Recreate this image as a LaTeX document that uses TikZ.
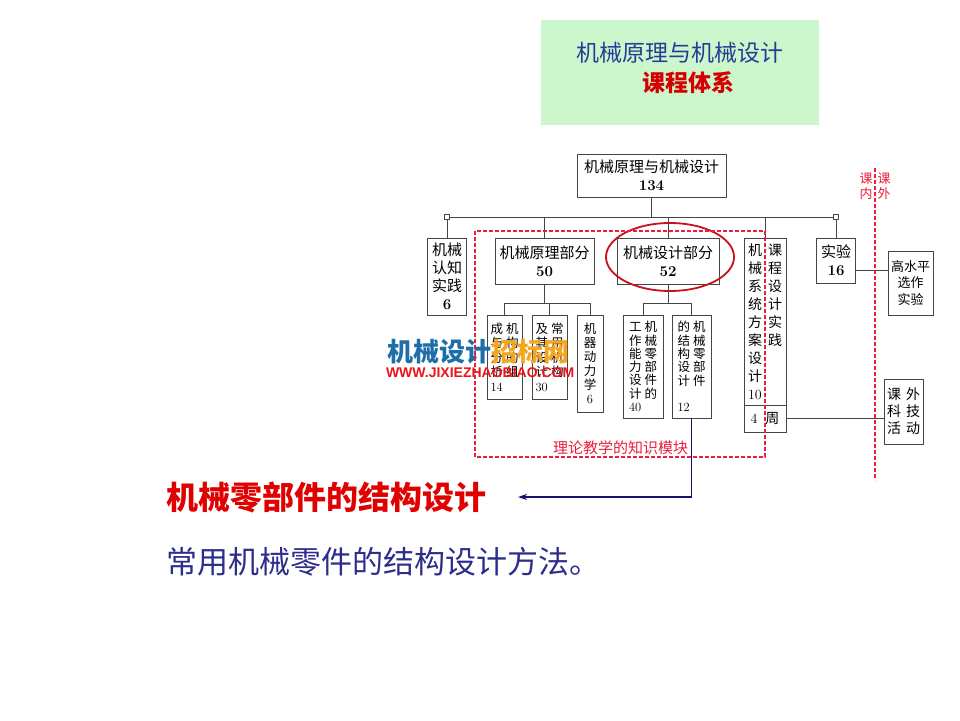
\documentclass[tikz,border=0pt]{standalone}
\usepackage{fontspec}
\newfontfamily\cjk{Noto Sans CJK SC}
\newfontfamily\wmfont{Liberation Sans}
\usetikzlibrary{positioning,arrows.meta}

\definecolor{boxgray}{RGB}{70,70,70}
\definecolor{dashred}{RGB}{235,30,60}
\definecolor{focusred}{RGB}{200,16,30}
\definecolor{navy}{RGB}{20,20,110}
\definecolor{hotred}{RGB}{225,0,0}
\definecolor{inkblue}{RGB}{45,45,140}
\definecolor{titleblue}{RGB}{40,60,150}
\definecolor{titlered}{RGB}{215,0,0}
\definecolor{titlegreen}{RGB}{204,246,204}
\definecolor{markblue}{RGB}{30,110,170}
\definecolor{markorange}{RGB}{245,165,30}
\definecolor{markred}{RGB}{232,20,26}

\newcommand\boxnum[1]{{\normalfont\bfseries #1}}
\newcommand\subnum[1]{{\normalfont #1}}
\newcommand\duo[2]{#1\hspace{3pt}#2}

\begin{document}
\begin{tikzpicture}
[x=1pt,y=-1pt,
 every node/.style={inner sep=0pt,outer sep=0pt},
 unit/.style={draw=boxgray,line width=0.8pt,fill=white,align=center,font=\cjk\fontsize{15}{18}\selectfont},
 sub/.style={unit,align=left,font=\cjk\fontsize{12.5}{14.5}\selectfont},
 link/.style={draw=boxgray,line width=0.8pt},
 bound/.style={draw=dashred,dash pattern=on 4pt off 2pt,line width=1.1pt},
 joint/.style={draw=boxgray,fill=white,line width=0.6pt,minimum size=5pt},
 focus/.style={draw=focusred,line width=1.8pt},
 pointer/.style={draw=navy,line width=1.5pt,-{Stealth[length=9pt,width=6pt]}}]
\fill[white] (0,0) rectangle (960,720);
\useasboundingbox (0,0) rectangle (960,720);
% title
\node[fill=titlegreen,minimum width=278pt,minimum height=105pt] (title) at (680,72.5) {};
\node[font=\cjk\fontsize{23}{23}\selectfont,text=titleblue] (titleA) at (680,53) {机械原理与机械设计};
\node[font=\cjk\bfseries\fontsize{23}{23}\selectfont,text=titlered] (titleB) at (688,83) {课程体系};
% course tree
\node[unit,minimum width=149pt,minimum height=43pt] (course) at (651.5,175.5) {机械原理与机械设计\\\boxnum{134}};
\coordinate (busL) at (447,217);
\coordinate (busR) at (836,217);
\node[unit,minimum width=39pt,minimum height=77pt]  (renzhi) at (447,276.5) {机械\\认知\\实践\\\boxnum{6}};
\node[unit,minimum width=99pt,minimum height=46pt]  (yuanli) at (544.5,261) {机械原理部分\\\boxnum{50}};
\node[unit,minimum width=102pt,minimum height=46pt] (sheji)  at (668,261)   {机械设计部分\\\boxnum{52}};
\node[unit,align=left,font=\cjk\fontsize{14}{18}\selectfont,minimum width=42pt,minimum height=167pt] (xitong) at (765,321.5)
  {机\hspace{6pt}课\\械\hspace{6pt}程\\系\hspace{6pt}设\\统\hspace{6pt}计\\方\hspace{6pt}实\\案\hspace{6pt}践\\设\\计\\\subnum{10}};
\node[unit,font=\cjk\fontsize{14}{18}\selectfont,minimum width=42pt,minimum height=27pt] (zhou) [below=0pt of xitong] {\normalfont 4\hspace{8pt}\cjk 周};
\node[unit,minimum width=39pt,minimum height=45pt]  (shiyan) at (836,260.5) {实验\\\boxnum{16}};
\node[unit,font=\cjk\fontsize{13}{16.5}\selectfont,minimum width=45pt,minimum height=64pt] (gao) at (910.5,283) {高水平\\选作\\实验};
\node[unit,font=\cjk\fontsize{14}{17}\selectfont,minimum width=39pt,minimum height=65pt] (kewai) at (903.5,411.5)
  {课\hspace{5pt}外\\科\hspace{5pt}技\\活\hspace{5pt}动};
\node[sub,minimum width=35pt,minimum height=84pt] (jigou) [on grid,below left=96pt and 40pt of yuanli]
  {\duo{成}{机}\\\duo{与}{构}\\\duo{分}{的}\\\duo{析}{组}\\\subnum{14}};
\node[sub,minimum width=35pt,minimum height=84pt] (changyong) [on grid,below right=96pt and 5pt of yuanli]
  {\duo{及}{常}\\\duo{其}{用}\\\duo{设}{机}\\\duo{计}{构}\\\subnum{30}};
\node[sub,align=center,font=\cjk\fontsize{12.5}{14}\selectfont,minimum width=26pt,minimum height=97pt] (dongli) [on grid,below right=102.5pt and 45.5pt of yuanli]
  {机\\器\\动\\力\\学\\\subnum{6}};
\node[sub,font=\cjk\fontsize{12.5}{13.3}\selectfont,minimum width=40pt,minimum height=103pt] (gongzuo) [on grid,below left=105.5pt and 25pt of sheji]
  {\duo{工}{机}\\\duo{作}{械}\\\duo{能}{零}\\\duo{力}{部}\\\duo{设}{件}\\\duo{计}{的}\\\subnum{40}};
\node[sub,font=\cjk\fontsize{12.5}{13.3}\selectfont,minimum width=39pt,minimum height=103pt] (jiegou) [on grid,below right=105.5pt and 23.5pt of sheji]
  {\duo{的}{机}\\\duo{结}{械}\\\duo{构}{零}\\\duo{设}{部}\\\duo{计}{件}\\\mbox{}\\\subnum{12}};
% connectors
\draw[link] (busL) -- (busR);
\draw[link] (course) -- (course |- busL);
\draw[link] (busL) -- (renzhi);
\draw[link] (yuanli) -- (yuanli |- busL);
\draw[link] (sheji) -- (sheji |- busL);
\draw[link] (xitong) -- (xitong |- busL);
\draw[link] (busR) -- (shiyan);
\node[joint] (jointL) at (busL) {};
\node[joint] (jointR) at (busR) {};
\draw[link] (yuanli.south) -- ++(0,19) coordinate (ysplit);
\draw[link] (jigou) |- (ysplit);
\draw[link] (dongli) |- (ysplit);
\draw[link] (changyong) -- (changyong |- ysplit);
\draw[link] (sheji.south) -- ++(0,19) coordinate (ssplit);
\draw[link] (gongzuo) |- (ssplit);
\draw[link] (jiegou) |- (ssplit);
\draw[link] ([yshift=-10pt]shiyan.east) -- ([yshift=-10pt]shiyan.east -| gao.west);
\draw[link] (zhou) -- (zhou -| kewai.west);
\draw[focus] ([shift={(2,-4)}]sheji.center) ellipse [x radius=64,y radius=34];
% watermark
\node[anchor=west,font=\cjk\bfseries\fontsize{26}{26}\selectfont] (mark) at (387,352)
  {\textcolor{markblue}{机械设计}\textcolor{markorange}{招标网}};
\node[anchor=west,font=\wmfont\bfseries\fontsize{14}{14}\selectfont,text=markred] (markurl) at (386,373) {WWW.JIXIEZHAOBIAO.COM};
% module frame and in/out split
\coordinate (moduleNW) at (475,231);
\coordinate (moduleSE) at (765,457);
\draw[bound] (moduleNW) rectangle (moduleSE);
\node[font=\cjk\fontsize{15}{15}\selectfont,text=dashred] (module) at (620.5,448) {理论教学的知识模块};
\coordinate (splitT) at (875,168);
\coordinate (splitB) at (875,480);
\draw[bound] (splitT) -- (splitB);
\node[font=\cjk\fontsize{13}{15}\selectfont,text=dashred,align=center] (kenei) at (866,186) {课\\内};
\node[font=\cjk\fontsize{13}{15}\selectfont,text=dashred,align=center] (kewaiTag) at (884,186) {课\\外};
% focus text
\node[anchor=west,font=\cjk\bfseries\fontsize{32}{32}\selectfont,text=hotred] (focusTitle) at (166,497) {机械零部件的结构设计};
\coordinate (tip) at ([xshift=32pt]focusTitle.east);
\draw[pointer] (jiegou) |- (tip);
\node[anchor=west,font=\cjk\fontsize{31}{31}\selectfont,text=inkblue] (focusNote) at (166,562) {常用机械零件的结构设计方法。};
\end{tikzpicture}
\end{document}
